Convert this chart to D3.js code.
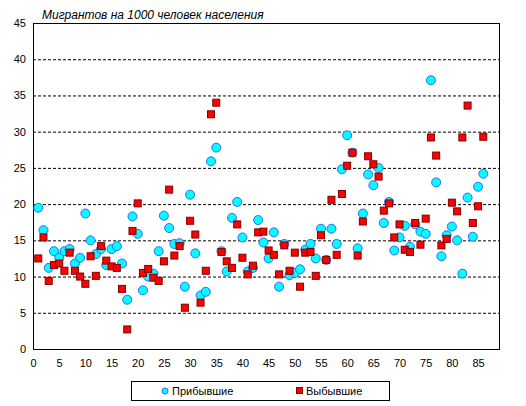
<!DOCTYPE html>
<html>
<head>
<meta charset="utf-8">
<script src="https://cdn.jsdelivr.net/npm/d3@7"></script>
<style>
  body { margin: 0; background: #fff; }
  svg { display: block; font-family: "Liberation Sans", Arial, sans-serif; }
</style>
</head>
<body>
<svg id="chart" width="526" height="406"></svg>
<script>
// migrants per 1000 people, one value per point 1..86
const arrived = [
  19.5, 16.4, 11.2, 13.5, 12.6, 13.5, 13.8, 11.8, 12.6, 18.7,
  15.0, 13.1, 13.8, 11.6, 13.8, 14.2, 11.8, 6.8, 18.3, 15.9,
  8.1, 10.0, 10.4, 13.5, 18.4, 16.7, 14.5, 14.6, 8.6, 21.3,
  13.2, 7.4, 7.9, 25.9, 27.8, 13.5, 10.7, 18.1, 20.3, 15.4,
  10.7, 11.2, 17.8, 14.7, 12.5, 16.1, 8.6, 14.5, 10.2, 10.5,
  11.0, 13.7, 14.5, 12.5, 16.6, 12.3, 16.6, 14.5, 24.8, 29.5,
  27.1, 13.9, 18.7, 24.1, 22.6, 25.0, 17.4, 20.3, 13.6, 15.4,
  17.0, 14.1, 17.2, 16.2, 15.9, 37.1, 23.0, 12.8, 15.7, 16.9,
  15.0, 10.4, 20.9, 15.5, 22.4, 24.2
];
const departed = [
  12.5, 15.4, 9.4, 11.6, 11.8, 10.8, 13.3, 10.8, 10.0, 9.0,
  12.8, 10.1, 14.2, 12.2, 11.4, 11.2, 8.3, 2.7, 16.3, 20.1,
  10.5, 11.05, 9.85, 9.4, 12.1, 22.0, 12.9, 14.2, 5.7, 17.7,
  15.8, 6.4, 10.8, 32.4, 34.0, 13.4, 12.1, 11.2, 17.2, 12.6,
  10.3, 11.5, 16.1, 16.2, 13.6, 13.0, 10.3, 14.3, 10.8, 13.3,
  8.6, 13.3, 13.4, 10.1, 15.7, 12.3, 20.6, 13.0, 21.4, 25.3,
  27.1, 12.9, 17.6, 26.6, 25.5, 23.8, 19.1, 20.1, 15.4, 17.2,
  13.7, 13.4, 17.4, 14.4, 18.0, 29.2, 26.7, 14.3, 15.2, 20.2,
  19.0, 29.2, 33.6, 17.4, 19.7, 29.3
];
const xTicks = d3.range(0, 90, 5);
const yTicks = d3.range(0, 50, 5);
const seriesNames = ["Прибывшие", "Выбывшие"];
const title = "Мигрантов на 1000 человек населения";

const svg = d3.select("#chart");
const plot = { left: 33, right: 499, top: 23, bottom: 349 };

const x = d3.scaleLinear().domain([0, 89]).range([plot.left, plot.right]);
const y = d3.scaleLinear().domain([0, 45]).range([plot.bottom, plot.top]);

// dashed grid
svg.append("g")
  .selectAll("line")
  .data(yTicks.filter(d => d > 0 && d < 45))
  .join("line")
  .attr("x1", plot.left).attr("x2", plot.right)
  .attr("y1", d => y(d) + 0.5).attr("y2", d => y(d) + 0.5)
  .attr("stroke", "#000")
  .attr("stroke-dasharray", "3,2");

// axes, labels only
const yAxis = svg.append("g")
  .attr("transform", `translate(${plot.left},0)`)
  .call(d3.axisLeft(y).tickValues(yTicks).tickSize(0).tickPadding(7));
const xAxis = svg.append("g")
  .attr("transform", `translate(0,${plot.bottom})`)
  .call(d3.axisBottom(x).tickValues(xTicks).tickSize(0).tickPadding(10));
[xAxis, yAxis].forEach(a => {
  a.select(".domain").remove();
  a.selectAll("text").attr("font-size", 11).attr("fill", "#000")
    .attr("font-family", "'Liberation Sans', Arial, sans-serif");
});

// frame
svg.append("rect")
  .attr("x", plot.left + 0.5).attr("y", plot.top + 0.5)
  .attr("width", plot.right - plot.left).attr("height", plot.bottom - plot.top)
  .attr("fill", "none").attr("stroke", "#000");

// title
svg.append("text")
  .attr("x", 42).attr("y", 19)
  .attr("font-size", 12).attr("font-style", "italic")
  .text(title);

// points
svg.append("g")
  .selectAll("circle")
  .data(arrived)
  .join("circle")
  .attr("cx", (d, i) => x(i + 1))
  .attr("cy", d => y(d))
  .attr("r", 4.5)
  .attr("fill", "#00ffff")
  .attr("stroke", "#3366ff")
  .attr("stroke-width", 1);

svg.append("g")
  .selectAll("rect")
  .data(departed)
  .join("rect")
  .attr("x", (d, i) => x(i + 1) - 3.5)
  .attr("y", d => y(d) - 3.5)
  .attr("width", 7).attr("height", 7)
  .attr("fill", "#ff0000")
  .attr("stroke", "#800000")
  .attr("stroke-width", 1);

// legend
const lg = svg.append("g");
lg.append("rect")
  .attr("x", 131.5).attr("y", 381.5)
  .attr("width", 258).attr("height", 19)
  .attr("fill", "#fff").attr("stroke", "#000");
lg.append("circle")
  .attr("cx", 165).attr("cy", 391).attr("r", 3)
  .attr("fill", "#00ffff").attr("stroke", "#3366ff");
lg.append("rect")
  .attr("x", 296.5).attr("y", 387.5).attr("width", 6).attr("height", 6)
  .attr("fill", "#ff0000").attr("stroke", "#800000");
lg.selectAll("text.lab")
  .data(seriesNames)
  .join("text")
  .attr("class", "lab")
  .attr("x", (d, i) => i === 0 ? 172 : 306)
  .attr("y", 395)
  .attr("font-size", 11)
  .text(d => d);
</script>
</body>
</html>
